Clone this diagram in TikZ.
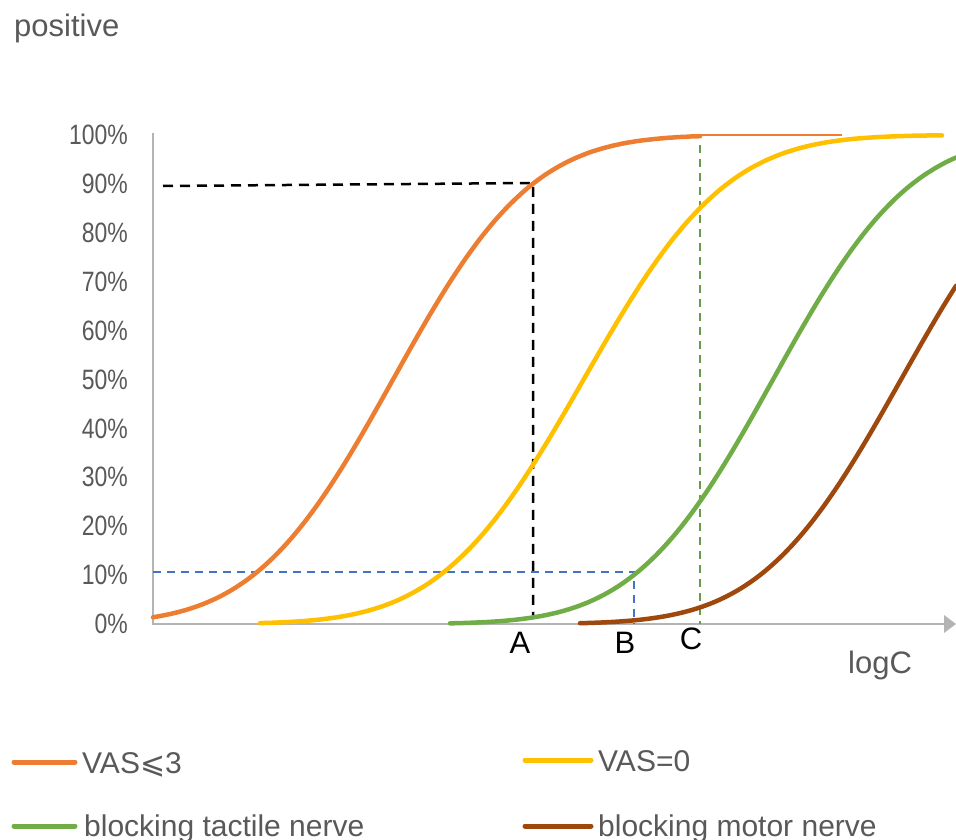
\documentclass[tikz,border=0pt]{standalone}
\usepackage{fontspec}
\setmainfont{Liberation Sans}
\newfontfamily\symfont{DejaVu Sans}
\definecolor{orangeC}{HTML}{ED7D31}
\definecolor{yellowC}{HTML}{FFC000}
\definecolor{greenC}{HTML}{70AD47}
\definecolor{brownC}{HTML}{9E480E}
\definecolor{blueC}{HTML}{4472C4}
\definecolor{dgreenC}{HTML}{6A9A4C}
\definecolor{textgray}{HTML}{595959}
\definecolor{axisgray}{HTML}{B4B4B4}
\begin{document}
\begin{tikzpicture}[x=1pt,y=-1pt,
  declare function={Phi(\z)=1/(1+exp(-0.07056*\z*\z*\z-1.5976*\z));},
  curve/.style={line width=4.5pt,line cap=round},
  legline/.style={line width=5pt,line cap=round},
  guideblack/.style={black,line width=2.5pt,dash pattern=on 10pt off 7pt},
  guideblue/.style={blueC,line width=2pt,dash pattern=on 8pt off 6pt},
  guidegreen/.style={dgreenC,line width=2pt,dash pattern=on 8pt off 6pt},
  ticklab/.style={anchor=east,inner sep=0pt,text=textgray,font=\fontsize{28pt}{30pt}\selectfont},
  graytext/.style={anchor=base west,inner sep=0pt,text=textgray,font=\fontsize{30pt}{34pt}\selectfont},
  pointlab/.style={anchor=base,inner sep=0pt,text=black,font=\fontsize{31pt}{34pt}\selectfont},
  axis/.style={axisgray,line width=2pt}]
\useasboundingbox (0,0) rectangle (956,840);

% axes
\coordinate (origin) at (153,624);
\coordinate (ytop) at (153,133);
\coordinate (xend) at (945,624);
\draw[axis] (ytop) -- (origin) -- (xend);
\fill[axisgray] (944,615) -- (956,624) -- (944,633) -- cycle;

% tick labels
\foreach \v [evaluate=\v as \p using int(10*\v)] in {0,...,10}
  \node[ticklab] (tick\v) at (128,{624-48.9*\v}) {\scalebox{0.82}[1]{\p\%}};

% guide lines
\coordinate (y90) at (163,186);
\coordinate (pA90) at (533,183);
\coordinate (pA0) at (533,616);
\draw[guideblack] (y90) -- (pA90) -- (pA0);
\coordinate (y10) at (153,572);
\coordinate (pB10) at (634,572);
\coordinate (pB0) at (634,624);
\draw[guideblue] (y10) -- (pB10) -- (pB0);
\coordinate (pCtop) at (700,145);
\coordinate (pC0) at (700,624);
\draw[guidegreen] (pCtop) -- (pC0);

% curves
\draw[orangeC,curve] plot[domain=153:700,samples=120,smooth] (\x,{624-489*Phi((\x-393)/109)});
\coordinate (oflat1) at (700,135);
\coordinate (oflat2) at (842,135);
\draw[orangeC,line width=2.5pt] (oflat1) -- (oflat2);
\draw[yellowC,curve] plot[domain=260:942,samples=120,smooth] (\x,{624-489*Phi((\x-583.6)/112)});
\draw[greenC,curve] plot[domain=450:956,samples=120,smooth] (\x,{624-489*Phi((\x-773)/108.6)});
\draw[brownC,curve] plot[domain=580:956,samples=120,smooth] (\x,{624-489*Phi((\x-901)/110)});

% labels
\node[graytext,font=\fontsize{31pt}{34pt}\selectfont] (ylabel) at (14,37) {positive};
\node[graytext,font=\fontsize{31pt}{34pt}\selectfont] (xlabel) at (848,673) {logC};
\node[pointlab] (labA) at (520,653) {A};
\node[pointlab] (labB) at (625,653) {B};
\node[pointlab] (labC) at (691,649) {C};

% legend
\coordinate (l1a) at (14,762); \coordinate (l1b) at (75,762);
\draw[orangeC,legline] (l1a) -- (l1b);
\node[graytext] (leg1) at (82,773) {VAS{\symfont ⩽}3};
\coordinate (l2a) at (525,760); \coordinate (l2b) at (591,760);
\draw[yellowC,legline] (l2a) -- (l2b);
\node[graytext] (leg2) at (598,771) {VAS=0};
\coordinate (l3a) at (14,826); \coordinate (l3b) at (75,826);
\draw[greenC,legline] (l3a) -- (l3b);
\node[graytext] (leg3) at (84,836) {blocking tactile nerve};
\coordinate (l4a) at (525,826); \coordinate (l4b) at (591,826);
\draw[brownC,legline] (l4a) -- (l4b);
\node[graytext] (leg4) at (598,836) {blocking motor nerve};
\end{tikzpicture}
\end{document}
